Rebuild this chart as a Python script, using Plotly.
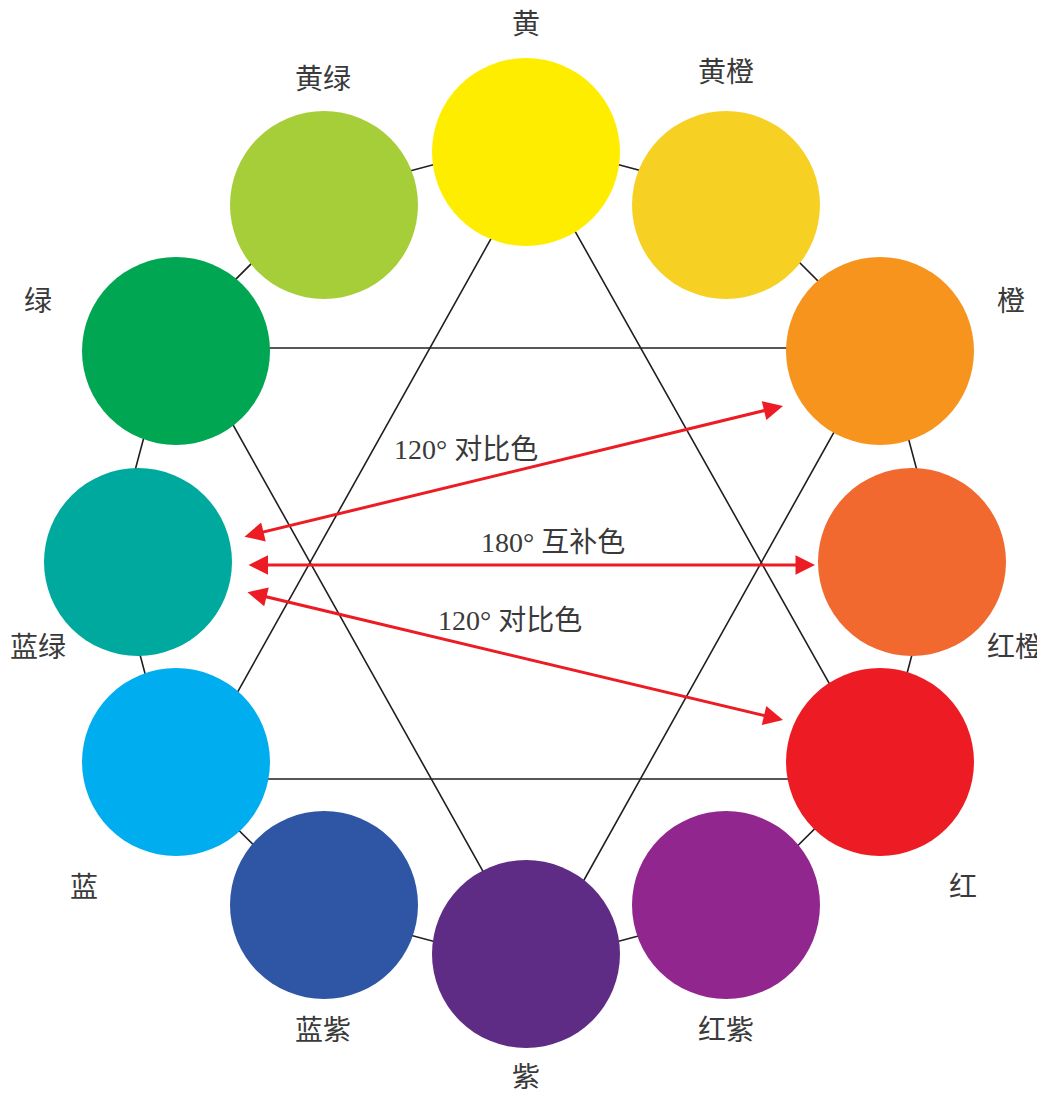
import plotly.graph_objects as go

# Twelve-hue colour wheel
hue_names = ['黄', '黄橙', '橙', '红橙', '红', '红紫',
             '紫', '蓝紫', '蓝', '蓝绿', '绿', '黄绿']
hue_colors = ['#FFED00', '#F7D024', '#F7941D', '#F1692F', '#ED1C24', '#91278E',
              '#5E2C84', '#2E56A4', '#00ADEE', '#00A99D', '#00A651', '#A6CE39']
hue_x = [526, 726, 880, 912, 880, 726, 526, 324, 176, 138, 176, 324]
hue_y = [152, 205, 351, 562, 762, 905, 954, 905, 762, 562, 351, 205]
label_x = [526, 726, 1011, 1015, 963, 726, 526, 323, 84, 38, 38, 323]
label_y = [27, 75, 304, 650, 890, 1033, 1080, 1033, 890, 650, 304, 82]

# outline polygon and the two triangles behind the circles
ring_x = [526, 732, 884, 939, 884, 732, 526, 320, 168, 113, 168, 320]
ring_y = [140, 195, 347, 553, 760, 911, 966, 911, 760, 553, 347, 195]
tri_a_x = [535, 883, 189]
tri_a_y = [160, 779, 779]
tri_b_x = [190, 881, 536]
tri_b_y = [348, 348, 966]

# contrast arrows: (x0, y0, x1, y1, text, text_x, text_y)
arrows = [
    (243, 537, 783, 406, '120° 对比色', 466, 449),
    (247, 565, 815, 565, '180° 互补色', 553, 542),
    (246, 592, 783, 720, '120° 对比色', 510, 620),
]

LINE = '#231F20'
RED = '#ED1C24'
TEXT = '#3A3A3A'
FONT = 'Liberation Serif, Noto Sans CJK SC, serif'

# the page body keeps an 8px margin, so the figure starts 8px in
PAGE_OFF = 8

fig = go.Figure()

fig.add_trace(go.Scatter(x=ring_x + ring_x[:1], y=ring_y + ring_y[:1],
                         mode='lines', line=dict(color=LINE, width=1.6),
                         hoverinfo='skip'))
for tx, ty in [(tri_a_x, tri_a_y), (tri_b_x, tri_b_y)]:
    fig.add_trace(go.Scatter(x=tx + tx[:1], y=ty + ty[:1], mode='lines',
                             line=dict(color=LINE, width=1.6),
                             hoverinfo='skip'))

fig.add_trace(go.Scatter(x=hue_x, y=hue_y, mode='markers',
                         marker=dict(size=188, color=hue_colors,
                                     line=dict(width=0), opacity=1),
                         text=hue_names, hoverinfo='text'))

fig.add_trace(go.Scatter(x=label_x, y=label_y, mode='text', text=hue_names,
                         textfont=dict(size=28, color=TEXT, family=FONT),
                         hoverinfo='skip', cliponaxis=False))

for x0, y0, x1, y1, txt, lx, ly in arrows:
    fig.add_annotation(x=x1, y=y1, ax=x0, ay=y0, xref='x', yref='y',
                       axref='x', ayref='y', text='', showarrow=True,
                       arrowhead=2, startarrowhead=2, arrowside='end+start',
                       arrowsize=1.3, startarrowsize=1.3, arrowwidth=3,
                       arrowcolor=RED, standoff=0, startstandoff=0)
    fig.add_annotation(x=lx, y=ly, xref='x', yref='y', text=txt,
                       showarrow=False,
                       font=dict(size=28, color=TEXT, family=FONT))

fig.update_layout(
    width=1045 - PAGE_OFF, height=1094 - PAGE_OFF,
    margin=dict(l=0, r=0, t=0, b=0),
    paper_bgcolor='white', plot_bgcolor='white',
    showlegend=False,
)
fig.update_xaxes(range=[PAGE_OFF, 1045], visible=False, fixedrange=True)
fig.update_yaxes(range=[1094, PAGE_OFF], visible=False, fixedrange=True)

fig.write_html("out.html")
